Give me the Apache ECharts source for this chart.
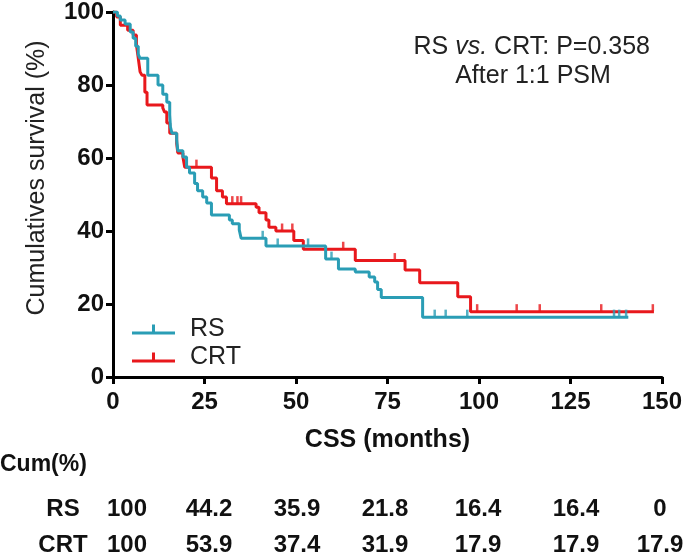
<!DOCTYPE html>
<html><head><meta charset="utf-8">
<script src="https://cdn.jsdelivr.net/npm/echarts@6/dist/echarts.min.js"></script>
<style>html,body{margin:0;padding:0;background:#fff}#c{width:685px;height:557px}</style>
</head><body><div id="c"></div>
<script>
// ---- data (months, survival %) ----
const rsTimes = [0,1.2,2.0,3.3,4.7,5.5,6.2,6.9,7.4,9.5,12.3,13.6,14.7,15.5,15.7,16.1,17.4,17.7,19.1,20.1,20.9,22.3,23.1,24.5,25.6,26.9,31.8,32.6,34.5,35.0,41.8,58.1,61.6,66.2,70.0,71.5,72.3,73.3,84.6,140.8];
const rsSurv  = [100,98.9,97.8,96.7,94.5,92.8,90.6,88.4,87.3,82.7,80.0,77.5,75.3,71.8,68.5,66.8,65.0,62.0,60.3,57.5,55.9,53.0,51.0,49.3,47.7,44.4,43.0,42.0,40.3,38.0,35.9,32.3,29.6,28.8,27.4,26.0,24.0,21.8,16.4,16.4];
const rsCensor = [40.9,45.0,53.3,59.7,87.9,90.9,96.8,136.9,138.3,140.2];

const crtTimes = [0,1.0,2.0,4.0,5.5,6.4,6.9,7.4,7.9,8.7,9.3,13.6,14.1,14.7,15.5,17.4,17.7,19.1,19.6,26.9,28.3,29.9,31.0,39.1,39.9,41.8,42.6,44.5,49.4,52.0,66.2,79.8,83.8,94.2,97.7,147.8];
const crtSurv  = [100,98.6,96.4,95.0,93.7,91.0,87.4,83.6,82.7,78.0,74.5,73.7,72.6,69.6,66.8,64.0,61.4,60.3,57.5,54.5,51.0,49.3,47.5,46.5,45.0,43.0,41.0,40.0,37.4,35.0,31.9,29.3,25.8,22.0,17.9,17.9];
const crtCensor = [22.8,32.6,34.0,35.0,46.2,49.0,62.9,77.0,99.5,110.3,116.6,133.4,147.5];

const xTicks = [0,25,50,75,100,125,150];
const yTicks = [0,20,40,60,80,100];
const tableRows = ['RS','CRT'];
const rsCum  = ['100','44.2','35.9','21.8','16.4','16.4','0'];
const crtCum = ['100','53.9','37.4','31.9','17.9','17.9','17.9'];

// ---- build ----
const TEAL = '#2a9db5', RED = '#e8181c';
const FONT = 'Liberation Sans, Arial, sans-serif';
function pairs(t, s){ return t.map((v,i)=>[v,s[i]]); }
function survAt(t, times, surv){ let v = surv[0]; for(let i=0;i<times.length;i++){ if(times[i]<=t) v=surv[i]; } return v; }
function censorPts(c, times, surv){ return c.map(t=>[t, survAt(t,times,surv)]); }

const chart = echarts.init(document.getElementById('c'), null, {renderer:'canvas'});
const colX = [127,209,297,385,478,576,660];
const legendIcon = 'path://M0,7h43v3H0z M20,0h3v8h-3z';

const graphics = [
  {type:'text', x:37, y:178, rotation:Math.PI/2, style:{text:'Cumulatives survival (%)', font:'25px '+FONT, fill:'#222', align:'center', verticalAlign:'middle'}},
  {type:'text', left:0, top:453, style:{text:'Cum(%)', font:'bold 23px '+FONT, fill:'#111'}},
  {type:'text', x:63, y:509, style:{text:tableRows[0], font:'bold 24px '+FONT, fill:'#111', align:'center', verticalAlign:'middle'}},
  {type:'text', x:63, y:545, style:{text:tableRows[1], font:'bold 24px '+FONT, fill:'#111', align:'center', verticalAlign:'middle'}},
  {type:'text', x:650, y:47, style:{text:'{n|RS }{i|vs.}{n| CRT: P=0.358}', align:'right', verticalAlign:'middle',
     rich:{n:{font:'25px '+FONT, fill:'#222'}, i:{font:'italic 25px '+FONT, fill:'#222'}}}},
  {type:'text', x:533, y:76, style:{text:'After 1:1 PSM', font:'25px '+FONT, fill:'#222', align:'center', verticalAlign:'middle'}}
];
rsCum.forEach((v,i)=>graphics.push({type:'text', x:colX[i], y:509, style:{text:v, font:'bold 24px '+FONT, fill:'#111', align:'center', verticalAlign:'middle'}}));
crtCum.forEach((v,i)=>graphics.push({type:'text', x:colX[i], y:545, style:{text:v, font:'bold 24px '+FONT, fill:'#111', align:'center', verticalAlign:'middle'}}));

chart.setOption({
  animation:false,
  backgroundColor:'#fff',
  grid:{left:113, right:19, top:12, bottom:180, containLabel:false},
  xAxis:{type:'value', min:0, max:150, interval:25,
    name:'CSS (months)', nameLocation:'middle', nameGap:51,
    nameTextStyle:{fontFamily:FONT, fontWeight:'bold', fontSize:25, color:'#111'},
    axisLine:{lineStyle:{color:'#000', width:3}},
    axisTick:{length:7, lineStyle:{color:'#000', width:3}},
    axisLabel:{fontFamily:FONT, fontWeight:'bold', fontSize:24, color:'#111', margin:13},
    splitLine:{show:false}},
  yAxis:{type:'value', min:0, max:100, interval:20,
    axisLine:{lineStyle:{color:'#000', width:3}},
    axisTick:{length:7, lineStyle:{color:'#000', width:3}},
    axisLabel:{fontFamily:FONT, fontWeight:'bold', fontSize:24, color:'#111', margin:9},
    splitLine:{show:false}},
  legend:{data:['RS','CRT'], orient:'vertical', left:127, top:312, itemGap:3,
    itemWidth:43, itemHeight:10, icon:legendIcon,
    textStyle:{fontFamily:FONT, fontSize:25, color:'#222', padding:[0,0,0,10]}},
  series:[
    {name:'RS', type:'line', step:'end', data:pairs(rsTimes,rsSurv), showSymbol:false, color:TEAL,
      lineStyle:{width:3, color:TEAL}, z:3},
    {name:'CRT', type:'line', step:'end', data:pairs(crtTimes,crtSurv), showSymbol:false, color:RED,
      lineStyle:{width:3, color:RED}, z:2},
    {name:'RS censor', type:'scatter', data:censorPts(rsCensor,rsTimes,rsSurv), symbol:'rect',
      symbolSize:[2.5,7], symbolOffset:[0,-4], itemStyle:{color:TEAL}, z:3},
    {name:'CRT censor', type:'scatter', data:censorPts(crtCensor,crtTimes,crtSurv), symbol:'rect',
      symbolSize:[2.5,7], symbolOffset:[0,-4], itemStyle:{color:RED}, z:2}
  ],
  graphic:graphics
});
</script></body></html>
